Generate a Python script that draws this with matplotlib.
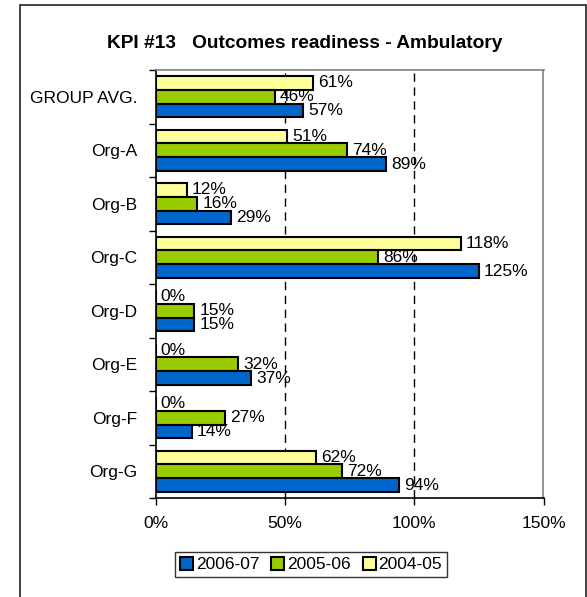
import matplotlib
matplotlib.use("Agg")
import matplotlib.pyplot as plt
import numpy as np
from matplotlib.patches import Rectangle
from matplotlib.ticker import FixedLocator

plt.rcParams["font.family"] = ["Liberation Sans", "DejaVu Sans"]

TITLE = "KPI #13   Outcomes readiness - Ambulatory"
CATEGORIES = ["GROUP AVG.", "Org-A", "Org-B", "Org-C", "Org-D", "Org-E", "Org-F", "Org-G"]
SERIES = ["2006-07", "2005-06", "2004-05"]
VALUES_2006_07 = [57, 89, 29, 125, 15, 37, 14, 94]
VALUES_2005_06 = [46, 74, 16, 86, 15, 32, 27, 72]
VALUES_2004_05 = [61, 51, 12, 118, 0, 0, 0, 62]
X_TICKS = [0, 50, 100, 150]

COLORS = {"2006-07": "#0066CC", "2005-06": "#99CC00", "2004-05": "#FFFF99"}
BAR_H = 0.258
FS = 12.5

fig = plt.figure(figsize=(5.87, 5.97), dpi=100)
ax = fig.add_axes([155.6 / 587, 1 - 498 / 597, (543.5 - 155.6) / 587, (498 - 70) / 597])

# outer chart border
fig.patches.append(Rectangle((20 / 587, -0.05), 565.5 / 587, 1.05 - 5 / 597,
                             transform=fig.transFigure, fill=False,
                             edgecolor="#222222", linewidth=1.2))

y = np.arange(len(CATEGORIES))
series_data = {
    "2004-05": (VALUES_2004_05, -BAR_H),
    "2005-06": (VALUES_2005_06, 0.0),
    "2006-07": (VALUES_2006_07, BAR_H),
}
handles = {}
for name, (vals, off) in series_data.items():
    bars = ax.barh(y + off, vals, height=BAR_H, color=COLORS[name],
                   edgecolor="black", linewidth=1.5, zorder=3)
    handles[name] = bars
    for yi, v in zip(y + off, vals):
        ax.text(v + 2, yi, f"{v}%", va="center", ha="left", fontsize=FS, zorder=4)

ax.set_xlim(0, 150)
ax.set_ylim(len(CATEGORIES) - 0.5, -0.5)
ax.set_xticks(X_TICKS)
ax.set_xticklabels([f"{t}%" for t in X_TICKS], fontsize=FS)
ax.set_yticks(y)
ax.set_yticklabels(CATEGORIES, fontsize=FS)
ax.tick_params(axis="y", which="major", length=0, pad=13)
ax.yaxis.set_minor_locator(FixedLocator(np.arange(-0.5, len(CATEGORIES), 1)))
ax.tick_params(axis="y", which="minor", length=5, direction="out", width=1)
ax.tick_params(axis="x", length=5, direction="out", width=1, pad=8)

for xv in [50, 100]:
    ax.axvline(xv, color="black", linewidth=1, linestyle=(0, (6, 4)), zorder=1)

ax.spines["left"].set_color("black")
ax.spines["bottom"].set_color("black")
ax.spines["top"].set_color("#808080")
ax.spines["right"].set_color("#808080")
for s in ax.spines.values():
    s.set_linewidth(1.2)

fig.text(305 / 587, 1 - 43 / 597, TITLE, ha="center", va="center",
         fontsize=13.8, fontweight="bold")

leg = fig.legend([handles[n] for n in SERIES], SERIES, loc="center",
                 bbox_to_anchor=(311 / 587, 1 - 564.5 / 597), ncol=3,
                 fontsize=FS, frameon=True, fancybox=False, edgecolor="black",
                 handlelength=0.75, handleheight=0.75, handletextpad=0.15,
                 columnspacing=0.7, borderpad=0.3)
leg.get_frame().set_linewidth(1)

fig.savefig("out.png", dpi=100)
